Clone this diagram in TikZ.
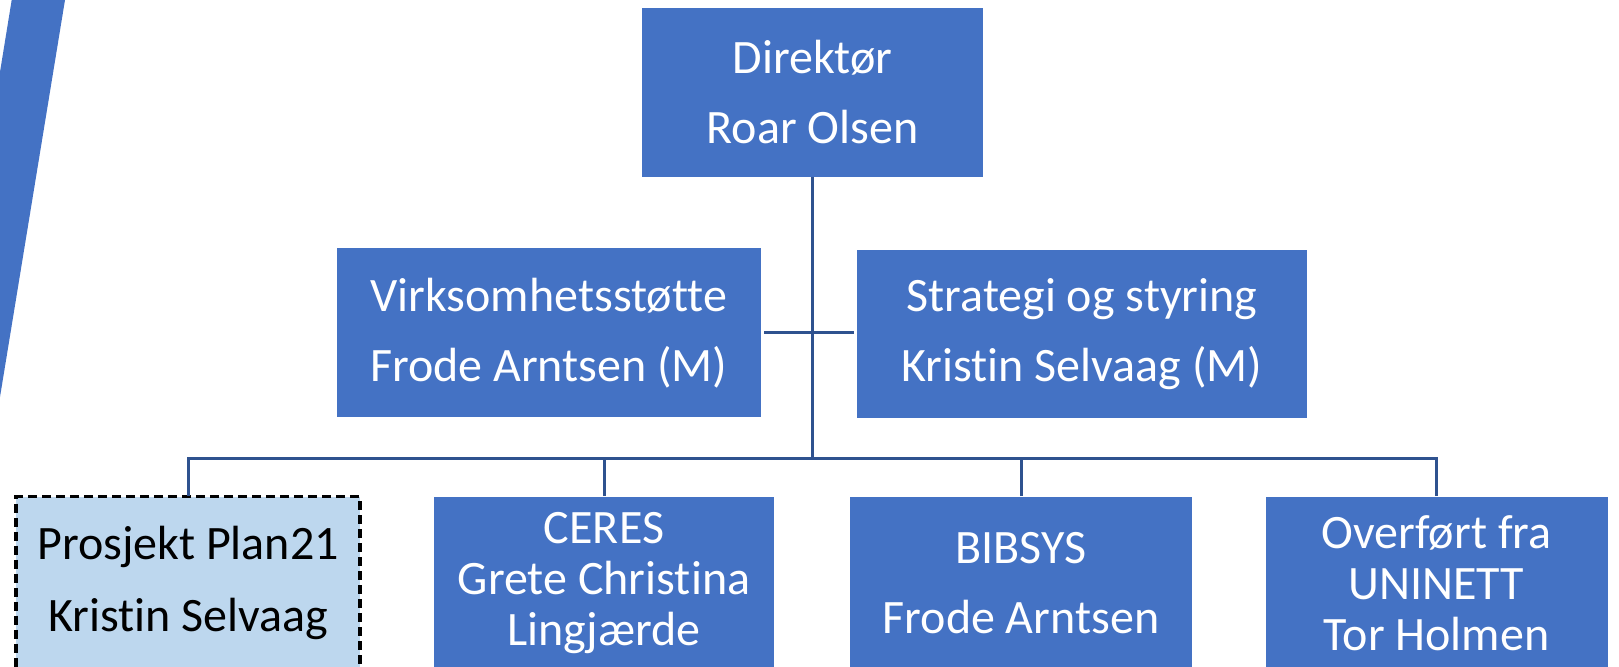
\documentclass[tikz,border=0pt]{standalone}
\usepackage{fontspec}
\setmainfont[Ligatures={NoCommon}]{Carlito}
\definecolor{boxblue}{HTML}{4472C4}
\definecolor{lineblue}{HTML}{2F528F}
\definecolor{lightblue}{HTML}{BDD7EE}
\begin{document}
\begin{tikzpicture}[x=0.5pt,y=-0.5pt,
  orgbox/.style={rectangle, fill=boxblue, draw=none, text=white, align=center, inner sep=0pt,
    font=\fontsize{24pt}{35pt}\selectfont},
  threeline/.style={font=\fontsize{24pt}{25.5pt}\selectfont},
  projbox/.style={rectangle, fill=lightblue, draw=black, line width=1.6pt, dash pattern=on 4.5pt off 2.5pt,
    text=black, align=center, inner sep=0pt, font=\fontsize{24pt}{36pt}\selectfont},
  conn/.style={draw=lineblue, line width=1.5pt}]
\useasboundingbox (0,0) rectangle (1619,666);
\clip (0,0) rectangle (1619,666);
% decorative stripe
\fill[boxblue] (11.7,0) -- (65,0) -- (0,397) -- (0,72) -- cycle;
% nodes
\node[orgbox, minimum width=170.5pt, minimum height=84.2pt] (dir) at (812.5,92.5) {Direktør\\Roar Olsen};
\node[orgbox, minimum width=212.2pt, minimum height=84.6pt] (vs) at (548.8,332.7) {Virksomhetsstøtte\\Frode Arntsen (M)};
\node[orgbox, minimum width=225pt, minimum height=84.2pt] (ss) at (1082,334.2) {Strategi og styring\\Kristin Selvaag (M)};
\node[projbox, minimum width=172pt, minimum height=86.5pt] (pp) at (188,583) {Prosjekt Plan21\\Kristin Selvaag};
\node[orgbox, threeline, minimum width=170pt, minimum height=86.5pt] (ceres) at (604,583) {CERES\\Grete Christina\\Lingjærde};
\node[orgbox, minimum width=171pt, minimum height=86.5pt] (bib) at (1021,583) {BIBSYS\\Frode Arntsen};
\node[orgbox, threeline, minimum width=171pt, minimum height=86.5pt] (ov) at (1436.5,583) {Overført fra\\UNINETT\\Tor Holmen};
% connectors
\coordinate (bus) at (0,458);
\draw[conn] (dir.south) -- (dir.south |- bus);
\draw[conn] ([xshift=1.5pt]vs.east) -- ([xshift=-1.5pt]vs.east -| ss.west);
\draw[conn] ([yshift=-0.5pt]pp.north) -- (pp.north |- bus) -- (ov.north |- bus) -- (ov.north);
\draw[conn] (ceres.north) -- (ceres.north |- bus);
\draw[conn] (bib.north) -- (bib.north |- bus);
\end{tikzpicture}
\end{document}
